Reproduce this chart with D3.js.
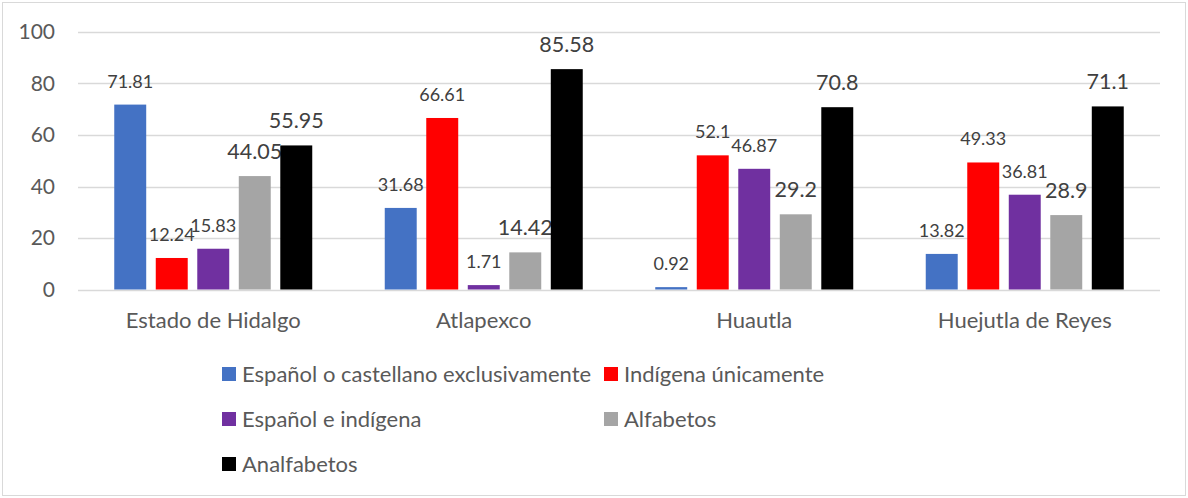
<!DOCTYPE html>
<html>
<head>
<meta charset="utf-8">
<script src="https://cdn.jsdelivr.net/npm/d3@7"></script>
<style>
  html, body { margin: 0; padding: 0; background: #fff; }
  svg { display: block; font-family: Lato, "Open Sans", sans-serif; }
</style>
</head>
<body>
<div id="chart"></div>
<script>
// --- data ---
const categories = ["Estado de Hidalgo", "Atlapexco", "Huautla", "Huejutla de Reyes"];
const seriesNames = [
  "Español o castellano exclusivamente",
  "Indígena únicamente",
  "Español e indígena",
  "Alfabetos",
  "Analfabetos"
];
const espanolSolo = [71.81, 31.68, 0.92, 13.82];
const indigenaSolo = [12.24, 66.61, 52.1, 49.33];
const espanolIndigena = [15.83, 1.71, 46.87, 36.81];
const alfabetos = [44.05, 14.42, 29.2, 28.9];
const analfabetos = [55.95, 85.58, 70.8, 71.1];
const yTicks = [0, 20, 40, 60, 80, 100];

const seriesValues = [espanolSolo, indigenaSolo, espanolIndigena, alfabetos, analfabetos];
const colors = ["#4472C4", "#FF0000", "#7030A0", "#A5A5A5", "#000000"];
// gray and black series carry larger data labels in the original
const labelSize = [18, 18, 18, 21.5, 21.5];

const width = 1188, height = 498;
const plot = { left: 78, right: 1160, top: 32, bottom: 289.5 };

const svg = d3.select("#chart").append("svg")
  .attr("width", width)
  .attr("height", height);

// chart frame
svg.append("rect")
  .attr("x", 2.5).attr("y", 2.5)
  .attr("width", width - 5).attr("height", height - 5)
  .attr("fill", "#fff")
  .attr("stroke", "#d9d9d9");

const x0 = d3.scaleBand()
  .domain(categories)
  .range([plot.left, plot.right]);

const groupW = 198;
const x1 = d3.scaleBand()
  .domain(d3.range(seriesNames.length))
  .range([0, groupW])
  .paddingInner(0.23);

const y = d3.scaleLinear()
  .domain([0, 100])
  .range([plot.bottom, plot.top]);

// gridlines
svg.append("g")
  .selectAll("line")
  .data(yTicks)
  .join("line")
  .attr("x1", plot.left)
  .attr("x2", plot.right)
  .attr("y1", d => Math.round(y(d)) + 0.5)
  .attr("y2", d => Math.round(y(d)) + 0.5)
  .attr("stroke", "#d9d9d9")
  .attr("stroke-width", 1.3);

// y tick labels
svg.append("g")
  .selectAll("text")
  .data(yTicks)
  .join("text")
  .attr("x", 55)
  .attr("y", d => y(d) + 7)
  .attr("text-anchor", "end")
  .attr("font-size", 21)
  .attr("fill", "#595959")
  .text(d => d);

// category labels
svg.append("g")
  .selectAll("text")
  .data(categories)
  .join("text")
  .attr("x", d => x0(d) + x0.bandwidth() / 2)
  .attr("y", 328)
  .attr("text-anchor", "middle")
  .attr("font-size", 22)
  .attr("fill", "#595959")
  .text(d => d);

// bars + labels, one series at a time so later bars sit over earlier labels
seriesNames.forEach((name, si) => {
  const rows = categories.map((c, ci) => ({ cat: c, value: seriesValues[si][ci] }));
  const bx = d => x0(d.cat) + (x0.bandwidth() - groupW) / 2 + x1(si);
  const layer = svg.append("g").attr("class", "series-" + si);

  layer.selectAll("rect")
    .data(rows)
    .join("rect")
    .attr("x", bx)
    .attr("y", d => y(d.value))
    .attr("width", x1.bandwidth())
    .attr("height", d => y(0) - y(d.value))
    .attr("fill", colors[si]);

  layer.selectAll("text")
    .data(rows)
    .join("text")
    .attr("x", d => bx(d) + x1.bandwidth() / 2)
    .attr("y", d => y(d.value) - 17)
    .attr("text-anchor", "middle")
    .attr("font-size", labelSize[si])
    .attr("fill", "#404040")
    .text(d => d.value);
});

// legend: two columns, three rows
const legendCols = [222, 604];
const legendRowY = [374, 419, 464];
const legend = svg.append("g")
  .selectAll("g")
  .data(seriesNames)
  .join("g")
  .attr("transform", (d, i) => `translate(${legendCols[i % 2]},${legendRowY[Math.floor(i / 2)]})`);

legend.append("rect")
  .attr("x", 0).attr("y", -7)
  .attr("width", 14).attr("height", 14)
  .attr("fill", (d, i) => colors[i]);

legend.append("text")
  .attr("x", 20)
  .attr("y", 7.5)
  .attr("font-size", 22)
  .attr("fill", "#595959")
  .text(d => d);
</script>
</body>
</html>
